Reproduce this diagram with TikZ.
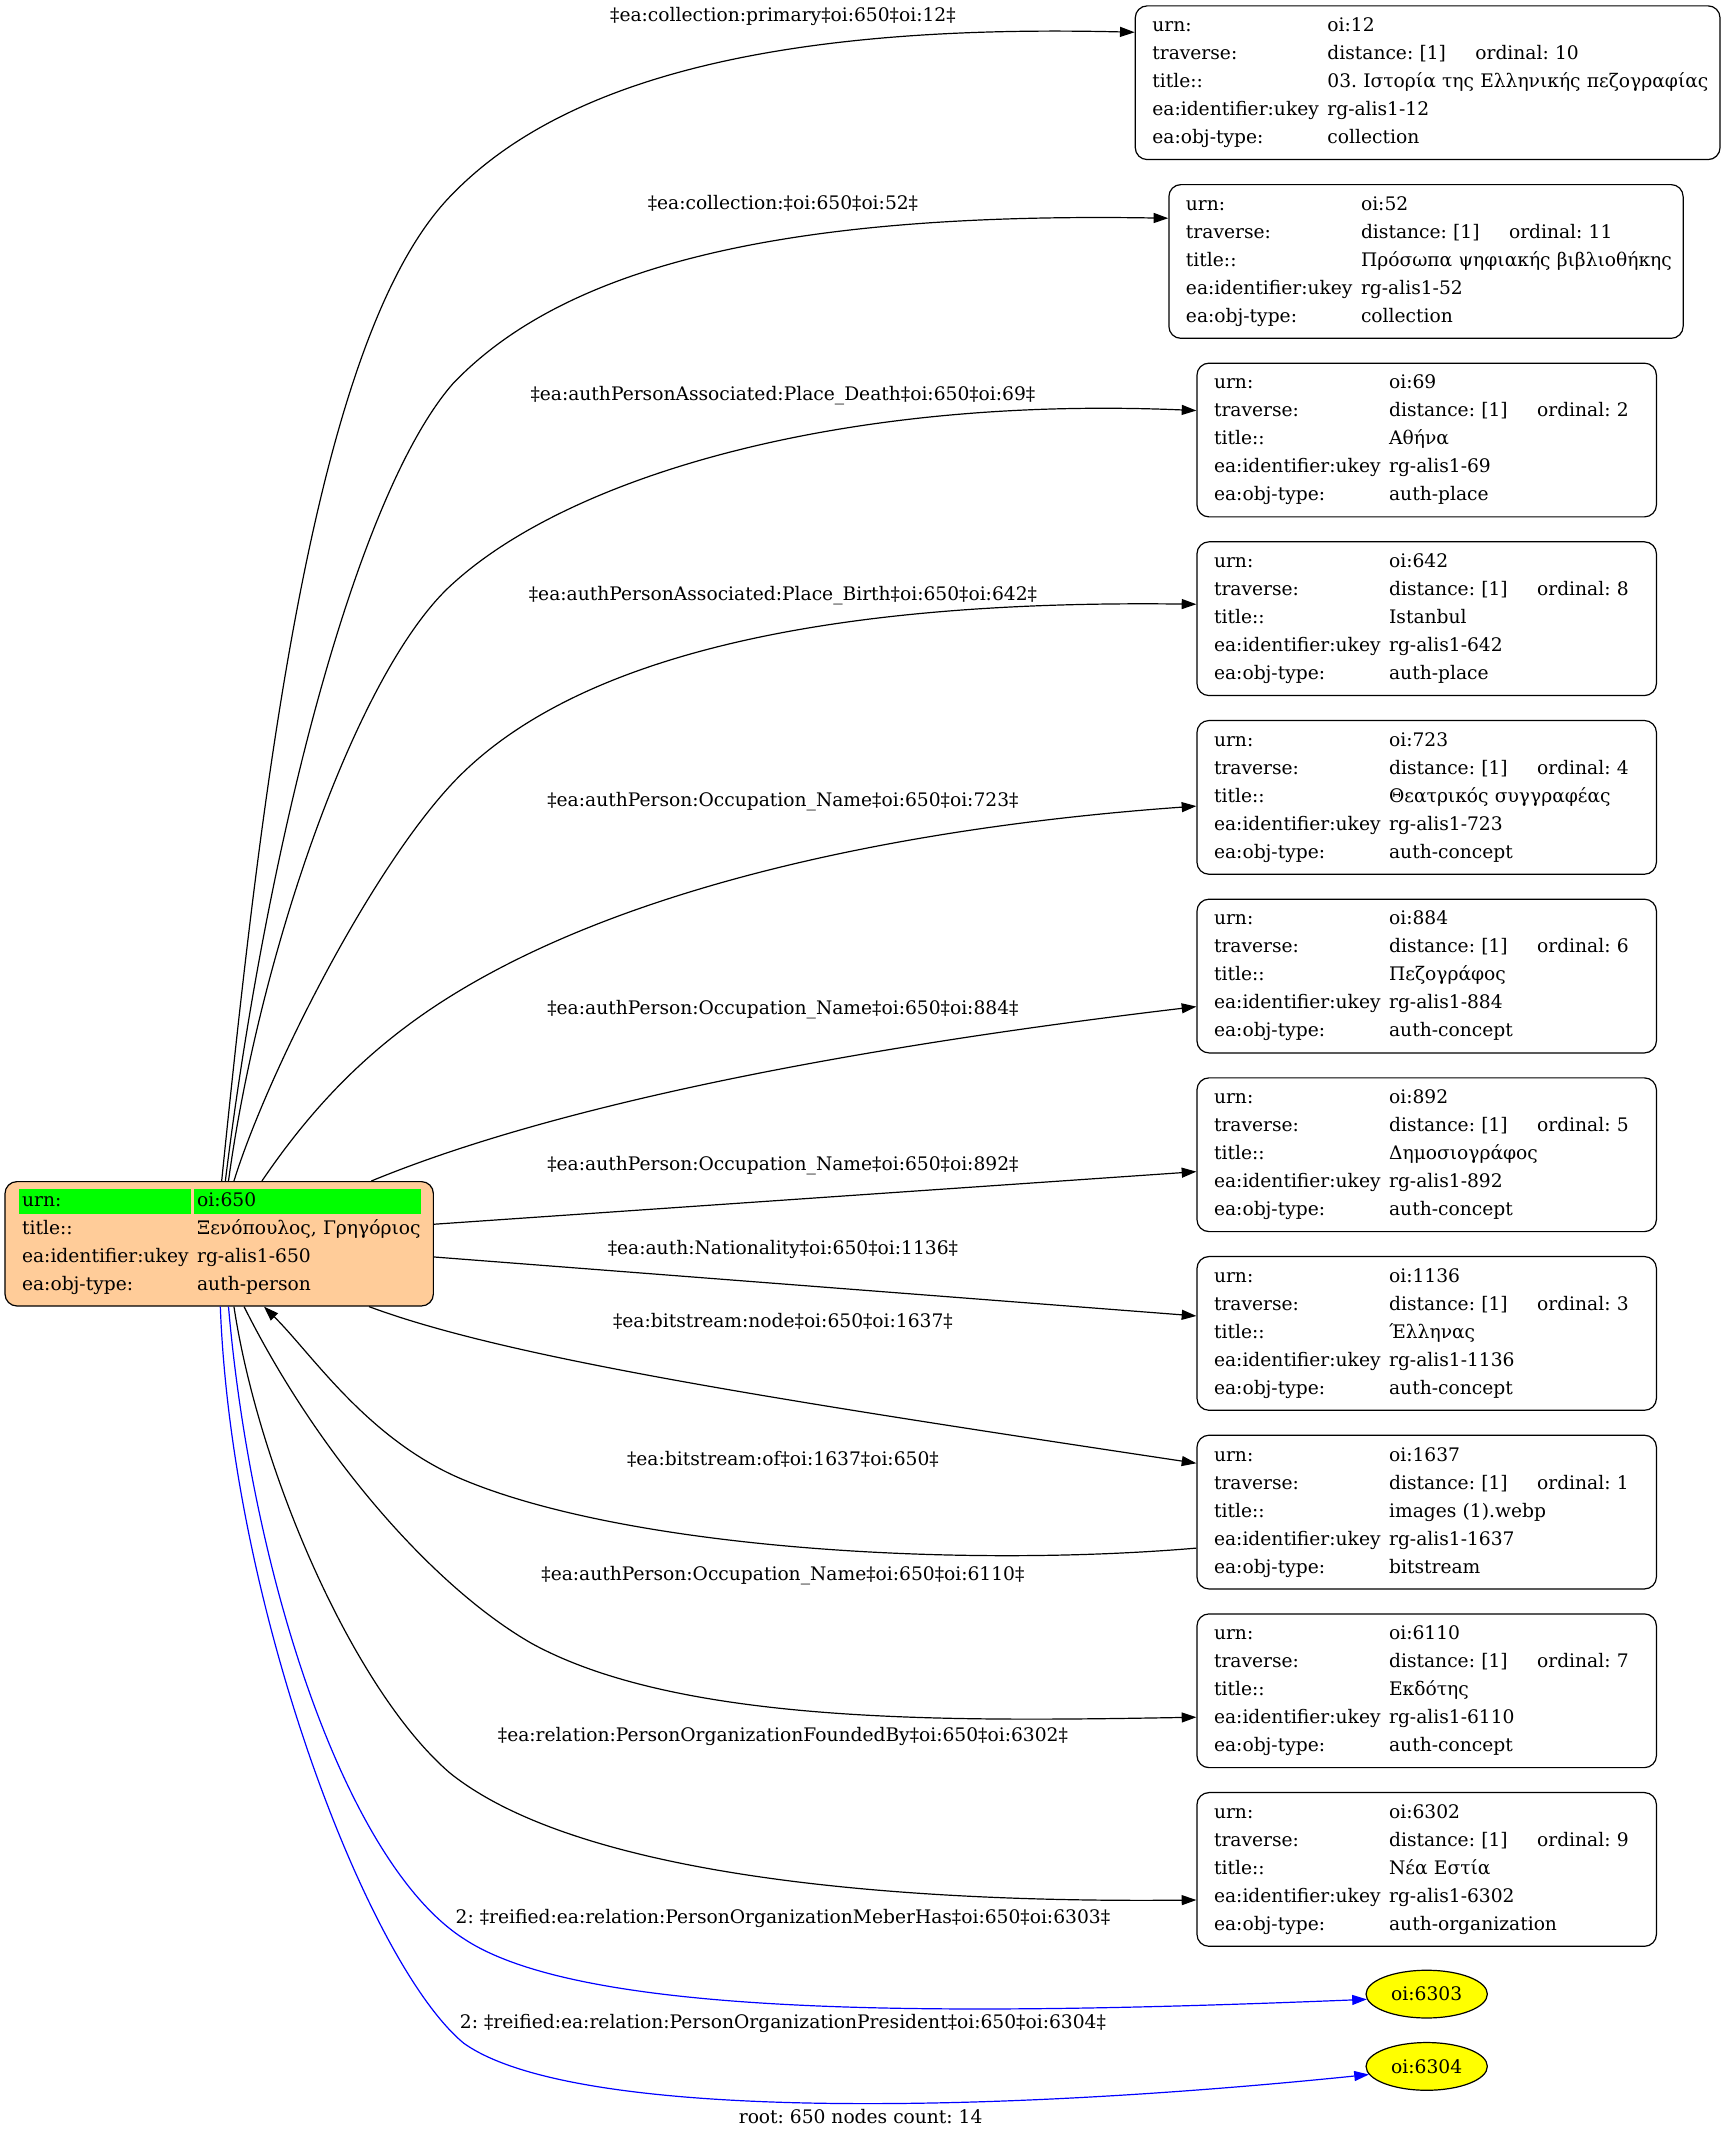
\documentclass[tikz,border=0pt]{standalone}
\usepackage{fontspec}
\setmainfont{DejaVu Serif}
\usepackage{array}
\usetikzlibrary{arrows.meta,shapes.geometric}
\definecolor{peach}{RGB}{255,204,153}
\definecolor{cellgreen}{RGB}{0,255,0}
\definecolor{nodeyellow}{RGB}{255,255,0}
\newcommand{\rs}{\rule[-6.8pt]{0pt}{21pt}}
\newcommand{\boxtab}[5]{%
\begin{tabular}{@{}p{131.3pt}@{}l@{}}
\rs urn: & #1\\
\rs traverse: & \makebox[111pt][l]{distance: [1]}ordinal: #2\\
\rs title:: & #3\\
\rs ea:identifier:ukey & #4\\
\rs ea:obj-type: & #5
\end{tabular}}
\begin{document}
\frenchspacing
\begin{tikzpicture}[x=1.023pt,y=-1.023pt,line width=0.9pt,
  every node/.style={font=\fontsize{14}{17}\selectfont\frenchspacing},
  infobox/.style={draw,rounded corners=9pt,align=left,inner xsep=12.8pt,inner ysep=5.15pt,minimum height=115.3pt},
  stdbox/.style={infobox,text width=319pt},
  ell/.style={ellipse,draw,fill=nodeyellow,minimum width=91pt,minimum height=35.8pt,inner sep=0pt},
  elabel/.style={inner sep=0pt,text height=10.2pt,text depth=3pt},
  conn/.style={-{Triangle[length=11pt,width=7.5pt]}},
  blueconn/.style={conn,blue}]
\useasboundingbox (0,0) rectangle (1264.7,1569.7);

% main node
\node[infobox,fill=peach,text width=295.7pt,minimum height=93.3pt,inner ysep=4.65pt,
  path picture={
    \fill[cellgreen,sharp corners] ([shift={(10.5,5.6)}]path picture bounding box.north west) rectangle ([shift={(136.3,24)}]path picture bounding box.north west);
    \fill[cellgreen,sharp corners] ([shift={(138.7,5.6)}]path picture bounding box.north west) rectangle ([shift={(304.7,24)}]path picture bounding box.north west);
  }] (main) at (160.7,911.9) {\begin{tabular}{@{}p{131.3pt}@{}l@{}}
\rs urn: & oi:650\\
\rs title:: & Ξενόπουλος, Γρηγόριος\\
\rs ea:identifier:ukey & rg-alis1-650\\
\rs ea:obj-type: & auth-person
\end{tabular}};

% target boxes
\node[infobox,text width=413pt] (box1) at (1046.7,60.65) {\boxtab{oi:12}{10}{03. Ιστορία της Ελληνικής πεζογραφίας}{rg-alis1-12}{collection}};
\node[infobox,text width=360.1pt] (box2) at (1045.5,191.7) {\boxtab{oi:52}{11}{Πρόσωπα ψηφιακής βιβλιοθήκης}{rg-alis1-52}{collection}};
\node[stdbox] (box3) at (1046,322.6) {\boxtab{oi:69}{2}{Αθήνα}{rg-alis1-69}{auth-place}};
\node[stdbox] (box4) at (1046,453.6) {\boxtab{oi:642}{8}{Istanbul}{rg-alis1-642}{auth-place}};
\node[stdbox] (box5) at (1046,584.6) {\boxtab{oi:723}{4}{Θεατρικός συγγραφέας}{rg-alis1-723}{auth-concept}};
\node[stdbox] (box6) at (1046,715.6) {\boxtab{oi:884}{6}{Πεζογράφος}{rg-alis1-884}{auth-concept}};
\node[stdbox] (box7) at (1046,846.6) {\boxtab{oi:892}{5}{Δημοσιογράφος}{rg-alis1-892}{auth-concept}};
\node[stdbox] (box8) at (1046,977.6) {\boxtab{oi:1136}{3}{Έλληνας}{rg-alis1-1136}{auth-concept}};
\node[stdbox] (box9) at (1046,1108.6) {\boxtab{oi:1637}{1}{images (1).webp}{rg-alis1-1637}{bitstream}};
\node[stdbox] (box10) at (1046,1239.6) {\boxtab{oi:6110}{7}{Εκδότης}{rg-alis1-6110}{auth-concept}};
\node[stdbox] (box11) at (1046,1370.6) {\boxtab{oi:6302}{9}{Νέα Εστία}{rg-alis1-6302}{auth-organization}};
\node[ell] (n6303) at (1046,1462) {oi:6303};
\node[ell] (n6304) at (1046,1515) {oi:6304};

% edge labels
\node[elabel] (lbl1) at (574,12) {‡ea:collection:primary‡oi:650‡oi:12‡};
\node[elabel] (lbl2) at (574,150) {‡ea:collection:‡oi:650‡oi:52‡};
\node[elabel] (lbl3) at (574,290) {‡ea:authPersonAssociated:Place\_Death‡oi:650‡oi:69‡};
\node[elabel] (lbl4) at (574,437) {‡ea:authPersonAssociated:Place\_Birth‡oi:650‡oi:642‡};
\node[elabel] (lbl5) at (574,588) {‡ea:authPerson:Occupation\_Name‡oi:650‡oi:723‡};
\node[elabel] (lbl6) at (574,740) {‡ea:authPerson:Occupation\_Name‡oi:650‡oi:884‡};
\node[elabel] (lbl7) at (574,855) {‡ea:authPerson:Occupation\_Name‡oi:650‡oi:892‡};
\node[elabel] (lbl8) at (574,916) {‡ea:auth:Nationality‡oi:650‡oi:1136‡};
\node[elabel] (lbl9) at (574,970) {‡ea:bitstream:node‡oi:650‡oi:1637‡};
\node[elabel] (lbl10) at (574,1071) {‡ea:bitstream:of‡oi:1637‡oi:650‡};
\node[elabel] (lbl11) at (574,1155) {‡ea:authPerson:Occupation\_Name‡oi:650‡oi:6110‡};
\node[elabel] (lbl12) at (574,1273) {‡ea:relation:PersonOrganizationFoundedBy‡oi:650‡oi:6302‡};
\node[elabel] (lbl13) at (574,1407) {2: ‡reified:ea:relation:PersonOrganizationMeberHas‡oi:650‡oi:6303‡};
\node[elabel] (lbl14) at (574,1484) {2: ‡reified:ea:relation:PersonOrganizationPresident‡oi:650‡oi:6304‡};
\node[elabel] (footer) at (631,1553) {root: 650 nodes count: 14};

% connectors
\draw[conn] ([shift={(159.3,0)}]main.north west) .. controls (193,566) and (232,242) .. (332,142)
  .. controls (410,62) and (560,17) .. ([shift={(0,-37)}]box1.west);
\draw[conn] ([shift={(162,0)}]main.north west) .. controls (196,616) and (262,361) .. (332.3,281)
  .. controls (410,200) and (560,155) .. ([shift={(0,-31.7)}]box2.west);
\draw[conn] ([shift={(164.3,0)}]main.north west) .. controls (190,700) and (262,490) .. (332.3,427.6)
  .. controls (420,348) and (620,290) .. ([shift={(0,-21.6)}]box3.west);
\draw[conn] ([shift={(168.3,0)}]main.north west) .. controls (195,790) and (270,640) .. (332,574)
  .. controls (430,470) and (640,440) .. ([shift={(0,-10.6)}]box4.west);
\draw[conn] ([shift={(188.8,0)}]main.north west) .. controls (230,810) and (270,770) .. (320,737)
  .. controls (460,645) and (680,605) .. ([shift={(0,6.4)}]box5.west);
\draw[conn] ([shift={(269,0)}]main.north west) .. controls (420,805) and (650,765) .. ([shift={(0,22.4)}]box6.west);
\draw[conn] ([shift={(0,31.7)}]main.north east) -- ([shift={(0,12.4)}]box7.west);
\draw[conn] ([shift={(0,55.7)}]main.north east) -- ([shift={(0,-12.8)}]box8.west);
\draw[conn] ([shift={(267.3,0)}]main.south west) .. controls (370,995) and (560,1025) .. ([shift={(0,-35.8)}]box9.west);
\draw[conn] ([shift={(0,26.4)}]box9.west) .. controls (700,1150) and (460,1135) .. (340,1085)
  .. controls (270,1056) and (229,993) .. ([shift={(190.3,0)}]main.south west);
\draw[conn] ([shift={(175.7,0)}]main.south west) .. controls (235,1070) and (320,1165) .. (390,1205)
  .. controls (500,1265) and (700,1262) .. ([shift={(0,19.4)}]box10.west);
\draw[conn] ([shift={(168.3,0)}]main.south west) .. controls (190,1080) and (260,1240) .. (330,1300)
  .. controls (430,1380) and (680,1395) .. ([shift={(0,22.4)}]box11.west);
\draw[blueconn] ([shift={(164.3,0)}]main.south west) .. controls (185,1160) and (255,1368) .. (341,1422)
  .. controls (430,1480) and (700,1478) .. (n6303.185);
\draw[blueconn] ([shift={(158.3,0)}]main.south west) .. controls (170,1180) and (270,1440) .. (340,1498)
  .. controls (420,1555) and (720,1550) .. (n6304.188);
\end{tikzpicture}
\end{document}
